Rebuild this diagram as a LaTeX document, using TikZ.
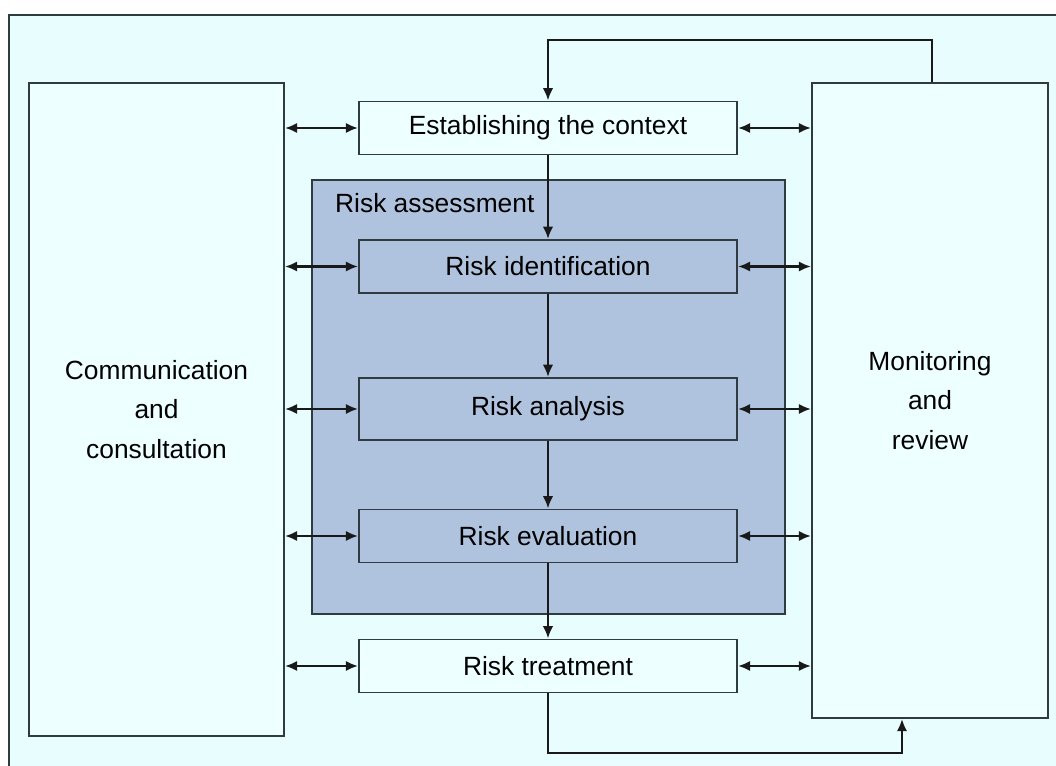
\documentclass[tikz,border=0pt]{standalone}
\usepackage{fontspec}
\setmainfont{Liberation Sans}
\usetikzlibrary{arrows.meta}
\definecolor{bgcyan}{HTML}{E8FEFE}
\definecolor{boxfill}{HTML}{EEFFFF}
\definecolor{assessblue}{HTML}{B0C3DE}
\definecolor{edgegray}{HTML}{2F3B40}
\begin{document}
\begin{tikzpicture}[x=0.02cm, y=-0.02cm,
    box/.style={draw=edgegray, line width=1.1pt, fill=boxfill, minimum width=7.56cm, minimum height=1.06cm, font=\fontsize{15}{18}\selectfont},
    stagebox/.style={box, fill=assessblue},
    sidebox/.style={draw=edgegray, line width=1.1pt, fill=boxfill, align=center, font=\fontsize{15}{22.7}\selectfont},
    link/.style={line width=1.4pt, draw=black!90, -{Latex[length=7pt,width=6pt]}},
    both/.style={link, {Latex[length=7pt,width=6pt]}-{Latex[length=7pt,width=6pt]}}]
    \useasboundingbox (0,0) rectangle (1056,766);
    \fill[bgcyan] (9,15) rectangle (1056,766);
    \draw[edgegray, line width=0.8pt] (9,766) -- (9,15) -- (1056,15);

    \coordinate (topright) at (932,40); \coordinate (botright) at (902,753);

    % side boxes
    \node[sidebox, minimum width=5.1cm, minimum height=13.06cm] (comm) at (156.5,409.5) {Communication\\and\\consultation};
    \node[sidebox, minimum width=4.72cm, minimum height=12.7cm] (mon) at (930,400.5) {Monitoring\\and\\review};

    % risk assessment
    \node[draw=edgegray, line width=1.1pt, fill=assessblue, minimum width=9.46cm, minimum height=8.68cm] (assess) at (548.5,397) {};
    \node[anchor=west, font=\fontsize{15}{18}\selectfont] (assesslabel) at (329,203) {Risk assessment};

    % process steps
    \node[box] (est) at (548,128) {Establishing the context};
    \node[stagebox] (ident) at (548,266.5) {Risk identification};
    \node[stagebox, minimum height=1.24cm] (anal) at (548,409) {Risk analysis};
    \node[stagebox] (eval) at (548,536) {Risk evaluation};
    \node[box] (treat) at (548,666) {Risk treatment};

    \draw[link] (est) -- (ident); \draw[link] (ident) -- (anal);
    \draw[link] (anal) -- (eval); \draw[link] (eval) -- (treat);

    \foreach \s in {est,ident,anal,eval,treat} {
        \draw[both] (comm.east |- \s.west) -- (\s.west);
        \draw[both] (\s.east) -- (mon.west |- \s.east);
    }

    % feedback loops
    \draw[link] (topright |- mon.north) -- (topright) -- (est.north |- topright) -- (est.north);
    \draw[link] (treat.south) -- (treat.south |- botright) -- (botright) -- (botright |- mon.south);
\end{tikzpicture}
\end{document}
